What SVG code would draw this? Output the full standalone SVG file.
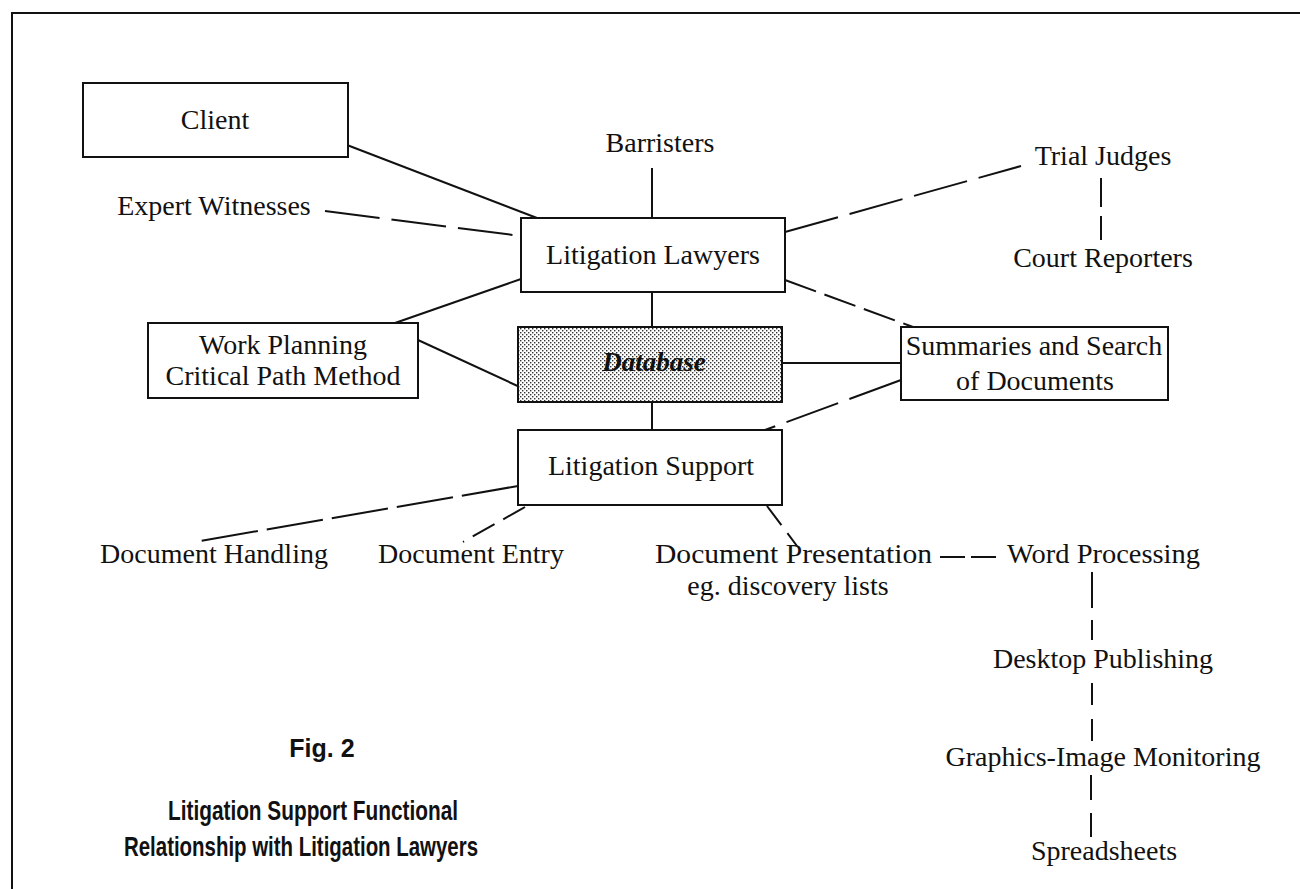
<svg xmlns="http://www.w3.org/2000/svg" width="1300" height="889" viewBox="0 0 1300 889">
<defs>
<pattern id="stip" width="4" height="4" patternUnits="userSpaceOnUse">
<rect width="4" height="4" fill="#fff"/>
<rect x="0" y="0" width="1.4" height="1.4" fill="#333"/>
<rect x="2" y="2" width="1.4" height="1.4" fill="#333"/>
</pattern>
<style>
.t{font-family:"Liberation Serif","Times New Roman",serif;font-size:28px;fill:#111;text-anchor:middle}
.s{text-anchor:start}
.box{fill:#fff;stroke:#111;stroke-width:2}
.c line,.c polyline{stroke:#111;stroke-width:2;fill:none}
.d{stroke-dasharray:55 12}
.v{stroke-dasharray:36 12}
.cap{font-family:"Liberation Sans",Arial,sans-serif;font-weight:bold;fill:#111}
</style>
</defs>
<rect width="1300" height="889" fill="#fff"/>
<path d="M12 889 V13 H1300" fill="none" stroke="#111" stroke-width="2"/>

<g class="c" id="connectors">
<line x1="347" y1="145" x2="537" y2="218"/>
<line class="d" x1="325" y1="211" x2="521" y2="236"/>
<line x1="652" y1="168" x2="652" y2="218"/>
<line class="d" x1="785" y1="232" x2="1021" y2="166"/>
<line class="v" x1="1101" y1="178" x2="1101" y2="240" style="stroke-dasharray:29 9"/>
<line x1="521" y1="279" x2="395" y2="323"/>
<line class="d" x1="785" y1="280" x2="913" y2="327" style="stroke-dasharray:33 9"/>
<line x1="652" y1="292" x2="652" y2="327"/>
<line x1="418" y1="340" x2="522" y2="388"/>
<line x1="782" y1="363" x2="901" y2="363"/>
<line x1="652" y1="402" x2="652" y2="430"/>
<line class="d" x1="901" y1="380" x2="765" y2="430"/>
<line class="d" x1="518" y1="486" x2="200" y2="541" style="stroke-dasharray:57 9"/>
<line class="d" x1="525" y1="507" x2="463" y2="542" style="stroke-dasharray:25 10"/>
<line class="d" x1="767" y1="506" x2="797" y2="546" style="stroke-dasharray:24 10"/>
<line class="d" x1="940" y1="557" x2="1000" y2="557" style="stroke-dasharray:25 6"/>
<line class="v" x1="1092" y1="572" x2="1092" y2="640"/>
<line class="v" x1="1092" y1="683" x2="1092" y2="742" style="stroke-dasharray:22 14"/>
<line class="v" x1="1091" y1="775" x2="1091" y2="837" style="stroke-dasharray:25 13"/>
</g>

<g id="client"><rect class="box" x="83" y="83" width="265" height="74"/><text class="t" x="215" y="129">Client</text></g>
<g id="expert"><text class="t" x="214" y="215">Expert Witnesses</text></g>
<g id="barristers"><text class="t" x="660" y="152">Barristers</text></g>
<g id="lawyers"><rect class="box" x="521" y="218" width="264" height="74"/><text class="t" x="653" y="264">Litigation Lawyers</text></g>
<g id="judges"><text class="t" x="1103" y="165">Trial Judges</text></g>
<g id="reporters"><text class="t" x="1103" y="267">Court Reporters</text></g>
<g id="workplan"><rect class="box" x="148" y="323" width="270" height="75"/><text class="t" x="283" y="354">Work Planning</text><text class="t" x="283" y="385">Critical Path Method</text></g>
<g id="database"><rect x="518" y="327" width="264" height="75" fill="url(#stip)" stroke="#111" stroke-width="2"/><text class="t" x="654" y="371" style="font-weight:bold;font-style:italic;font-size:27px">Database</text></g>
<g id="summaries"><rect class="box" x="901" y="327" width="267" height="73"/><text class="t" x="1034" y="355">Summaries and Search</text><text class="t" x="1035" y="390">of Documents</text></g>
<g id="support"><rect class="box" x="518" y="430" width="264" height="75"/><text class="t" x="651" y="475">Litigation Support</text></g>
<g id="handling"><text class="t" x="214" y="563">Document Handling</text></g>
<g id="entry"><text class="t" x="471" y="563">Document Entry</text></g>
<g id="presentation"><text class="t s" x="655" y="563" textLength="277" lengthAdjust="spacingAndGlyphs">Document Presentation</text><text class="t" x="788" y="595">eg. discovery lists</text></g>
<g id="word"><text class="t s" x="1007" y="563" textLength="193" lengthAdjust="spacingAndGlyphs">Word Processing</text></g>
<g id="desktop"><text class="t" x="1103" y="668">Desktop Publishing</text></g>
<g id="graphics"><text class="t" x="1103" y="766">Graphics-Image Monitoring</text></g>
<g id="spreadsheets"><text class="t" x="1104" y="860">Spreadsheets</text></g>
<g id="caption">
<text class="cap" x="322" y="757" font-size="25" text-anchor="middle">Fig. 2</text>
<text class="cap" x="168" y="820" font-size="28" textLength="290" lengthAdjust="spacingAndGlyphs">Litigation Support Functional</text>
<text class="cap" x="124" y="856" font-size="28" textLength="354" lengthAdjust="spacingAndGlyphs">Relationship with Litigation Lawyers</text>
</g>
</svg>
